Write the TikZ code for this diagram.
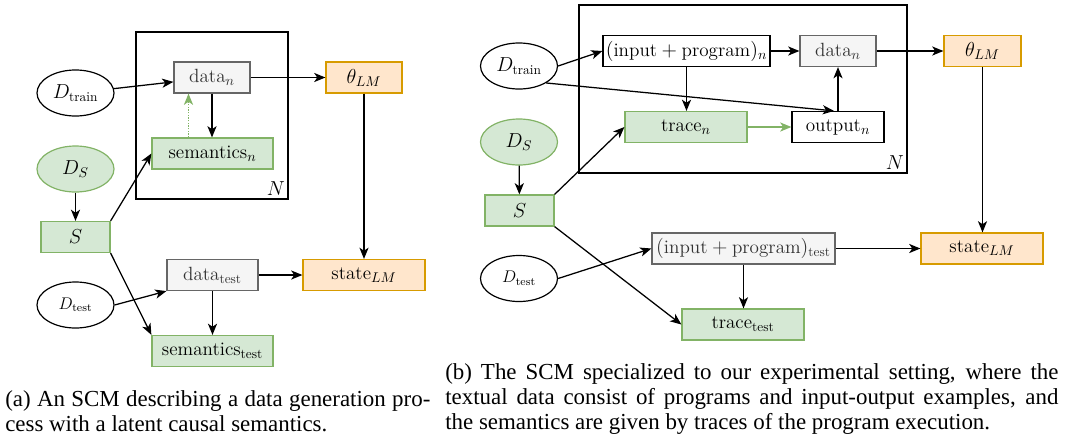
\documentclass[tikz,border=0pt]{standalone}
\usepackage{amsmath,amssymb}
\usepackage{fontspec}
\newfontfamily\capfont{Liberation Serif}
\usetikzlibrary{arrows.meta,calc,shapes.geometric}
\definecolor{grayfill}{HTML}{F5F5F5}
\definecolor{grayline}{HTML}{666666}
\definecolor{greenfill}{HTML}{D5E8D4}
\definecolor{greenline}{HTML}{82B366}
\definecolor{orangefill}{HTML}{FFE6CC}
\definecolor{orangeline}{HTML}{D79B00}

\begin{document}
\begin{tikzpicture}[x=0.025cm, y=-0.025cm,
	every node/.style={font=\fontsize{13.6}{16}\selectfont},
	box/.style={draw, line width=0.85pt, minimum height=0.775cm, inner sep=0pt},
	plainbox/.style={box, fill=white},
	graybox/.style={box, draw=grayline, fill=grayfill, text=black!80},
	greenbox/.style={box, draw=greenline, fill=greenfill},
	orangebox/.style={box, draw=orangeline, fill=orangefill},
	dist/.style={ellipse, draw, line width=0.85pt, minimum width=1.925cm, minimum height=1.15cm, inner sep=0pt},
	greendist/.style={dist, draw=greenline, fill=greenfill},
	small/.style={font=\fontsize{11.5}{14}\selectfont},
	edge/.style={-{Stealth[length=8pt,width=6.5pt,inset=2.2pt]}, line width=0.9pt},
	plate/.style={line width=0.85pt},
	caption/.style={anchor=north west, inner sep=0pt, align=justify, font=\capfont\fontsize{16.3}{17.8}\selectfont}]
	\useasboundingbox (0,0) rectangle (1065,436);
	% (a) generic SCM
	\draw[plate] (136,32) rectangle (288,199);
	\node[anchor=south east, inner sep=2pt] (na) at (288,199) {$N$};
	\node[graybox, minimum width=1.9cm] (dataa) at (212,77.5) {data$_n$};
	\node[orangebox, minimum width=1.9cm] (thetaa) at (364,77.5) {$\theta_{LM}$};
	\node[dist] (dtraina) at (75.5,93) {$D_\mathrm{train}$};
	\node[greenbox, minimum width=3.025cm] (sema) at (212.5,153.5) {semantics$_n$};
	\node[greendist] (dsa) at (75.5,169) {$D_S$};
	\node[greenbox, minimum width=1.725cm] (sa) at (75.5,237) {$S$};
	\node[graybox, minimum width=2.275cm] (datatesta) at (212.5,275) {data$_\mathrm{test}$};
	\node[orangebox, minimum width=3.05cm] (statea) at (364,275) {state$_{LM}$};
	\node[dist, small] (dtesta) at (75.5,305) {$D_\mathrm{test}$};
	\node[greenbox, minimum width=3.025cm] (semtesta) at (212.5,351) {semantics$_\mathrm{test}$};
	\coordinate (dotfoot) at ($(sema.north)+(-24,0)$);
	\draw[edge] (dtraina) -- (dataa);
	\draw[edge] (dataa) -- (thetaa);
	\draw[edge] (dataa.south) -- (dataa.south |- sema.north);
	\draw[edge, greenline, densely dotted] (dotfoot) -- (dotfoot |- dataa.south);
	\draw[edge] (dsa) -- (sa);
	\draw[edge] (sa.north east) -- (sema.west);
	\draw[edge] (sa.south east) -- (semtesta.north west);
	\draw[edge] (dtesta.east) -- (datatesta.south west);
	\draw[edge] (datatesta) -- (statea);
	\draw[edge] (datatesta.south) -- (datatesta.south |- semtesta.north);
	\draw[edge] (thetaa) -- (statea);
	\node[caption, text width=10.625cm] (capa) at (5,390) {(a) An SCM describing a data generation pro-\linebreak cess with a latent causal semantics.};
	% (b) programs and traces
	\draw[plate] (579,5) rectangle (907,173);
	\node[anchor=south east, inner sep=2pt] (nb) at (907,173) {$N$};
	\node[plainbox, minimum width=4.175cm] (inb) at (686.5,51) {$(\text{input} + \text{program})_n$};
	\node[graybox, minimum width=1.9cm] (datab) at (838,51) {data$_n$};
	\node[orangebox, minimum width=1.925cm] (thetab) at (982.5,51) {$\theta_{LM}$};
	\node[dist] (dtrainb) at (519,66) {$D_\mathrm{train}$};
	\node[greenbox, minimum width=3.05cm] (traceb) at (686,127) {trace$_n$};
	\node[plainbox, minimum width=2.3cm] (outb) at (838,127) {output$_n$};
	\node[greendist] (dsb) at (519,142) {$D_S$};
	\node[greenbox, minimum width=1.725cm] (sb) at (519.5,210.5) {$S$};
	\node[graybox, minimum width=4.575cm] (intestb) at (743.5,248.5) {$(\text{input} + \text{program})_\mathrm{test}$};
	\node[orangebox, minimum width=3.05cm] (stateb) at (982,248.5) {state$_{LM}$};
	\node[dist, small] (dtestb) at (519,278.5) {$D_\mathrm{test}$};
	\node[greenbox, minimum width=3.05cm] (tracetestb) at (743,324.5) {trace$_\mathrm{test}$};
	\coordinate (outtop) at ($(outb.north)+(-4,0)$);
	\draw[edge] (dtrainb.east) -- (inb.west);
	\draw[edge] (inb) -- (datab);
	\draw[edge] (datab) -- (thetab);
	\draw[edge] (inb.south) -- (inb.south |- traceb.north);
	\draw[edge, greenline] (traceb) -- (outb);
	\draw[edge] (outb.north) -- (datab.south);
	\draw[edge] (dtrainb.-32) -- (outtop);
	\draw[edge] (dsb) -- (sb);
	\draw[edge] (sb.north east) -- (traceb.west);
	\draw[edge] (sb.south east) -- (tracetestb.west);
	\draw[edge] (dtestb.east) -- (intestb.west);
	\draw[edge] (intestb) -- (stateb);
	\draw[edge] (intestb.south) -- (intestb.south |- tracetestb.north);
	\draw[edge] (thetab.south) -- (thetab.south |- stateb.north);
	\node[caption, text width=15.325cm] (capb) at (445,363) {(b) The SCM specialized to our experimental setting, where the\linebreak textual data consist of programs and input-output examples, and\linebreak the semantics are given by traces of the program execution.};
\end{tikzpicture}
\end{document}
